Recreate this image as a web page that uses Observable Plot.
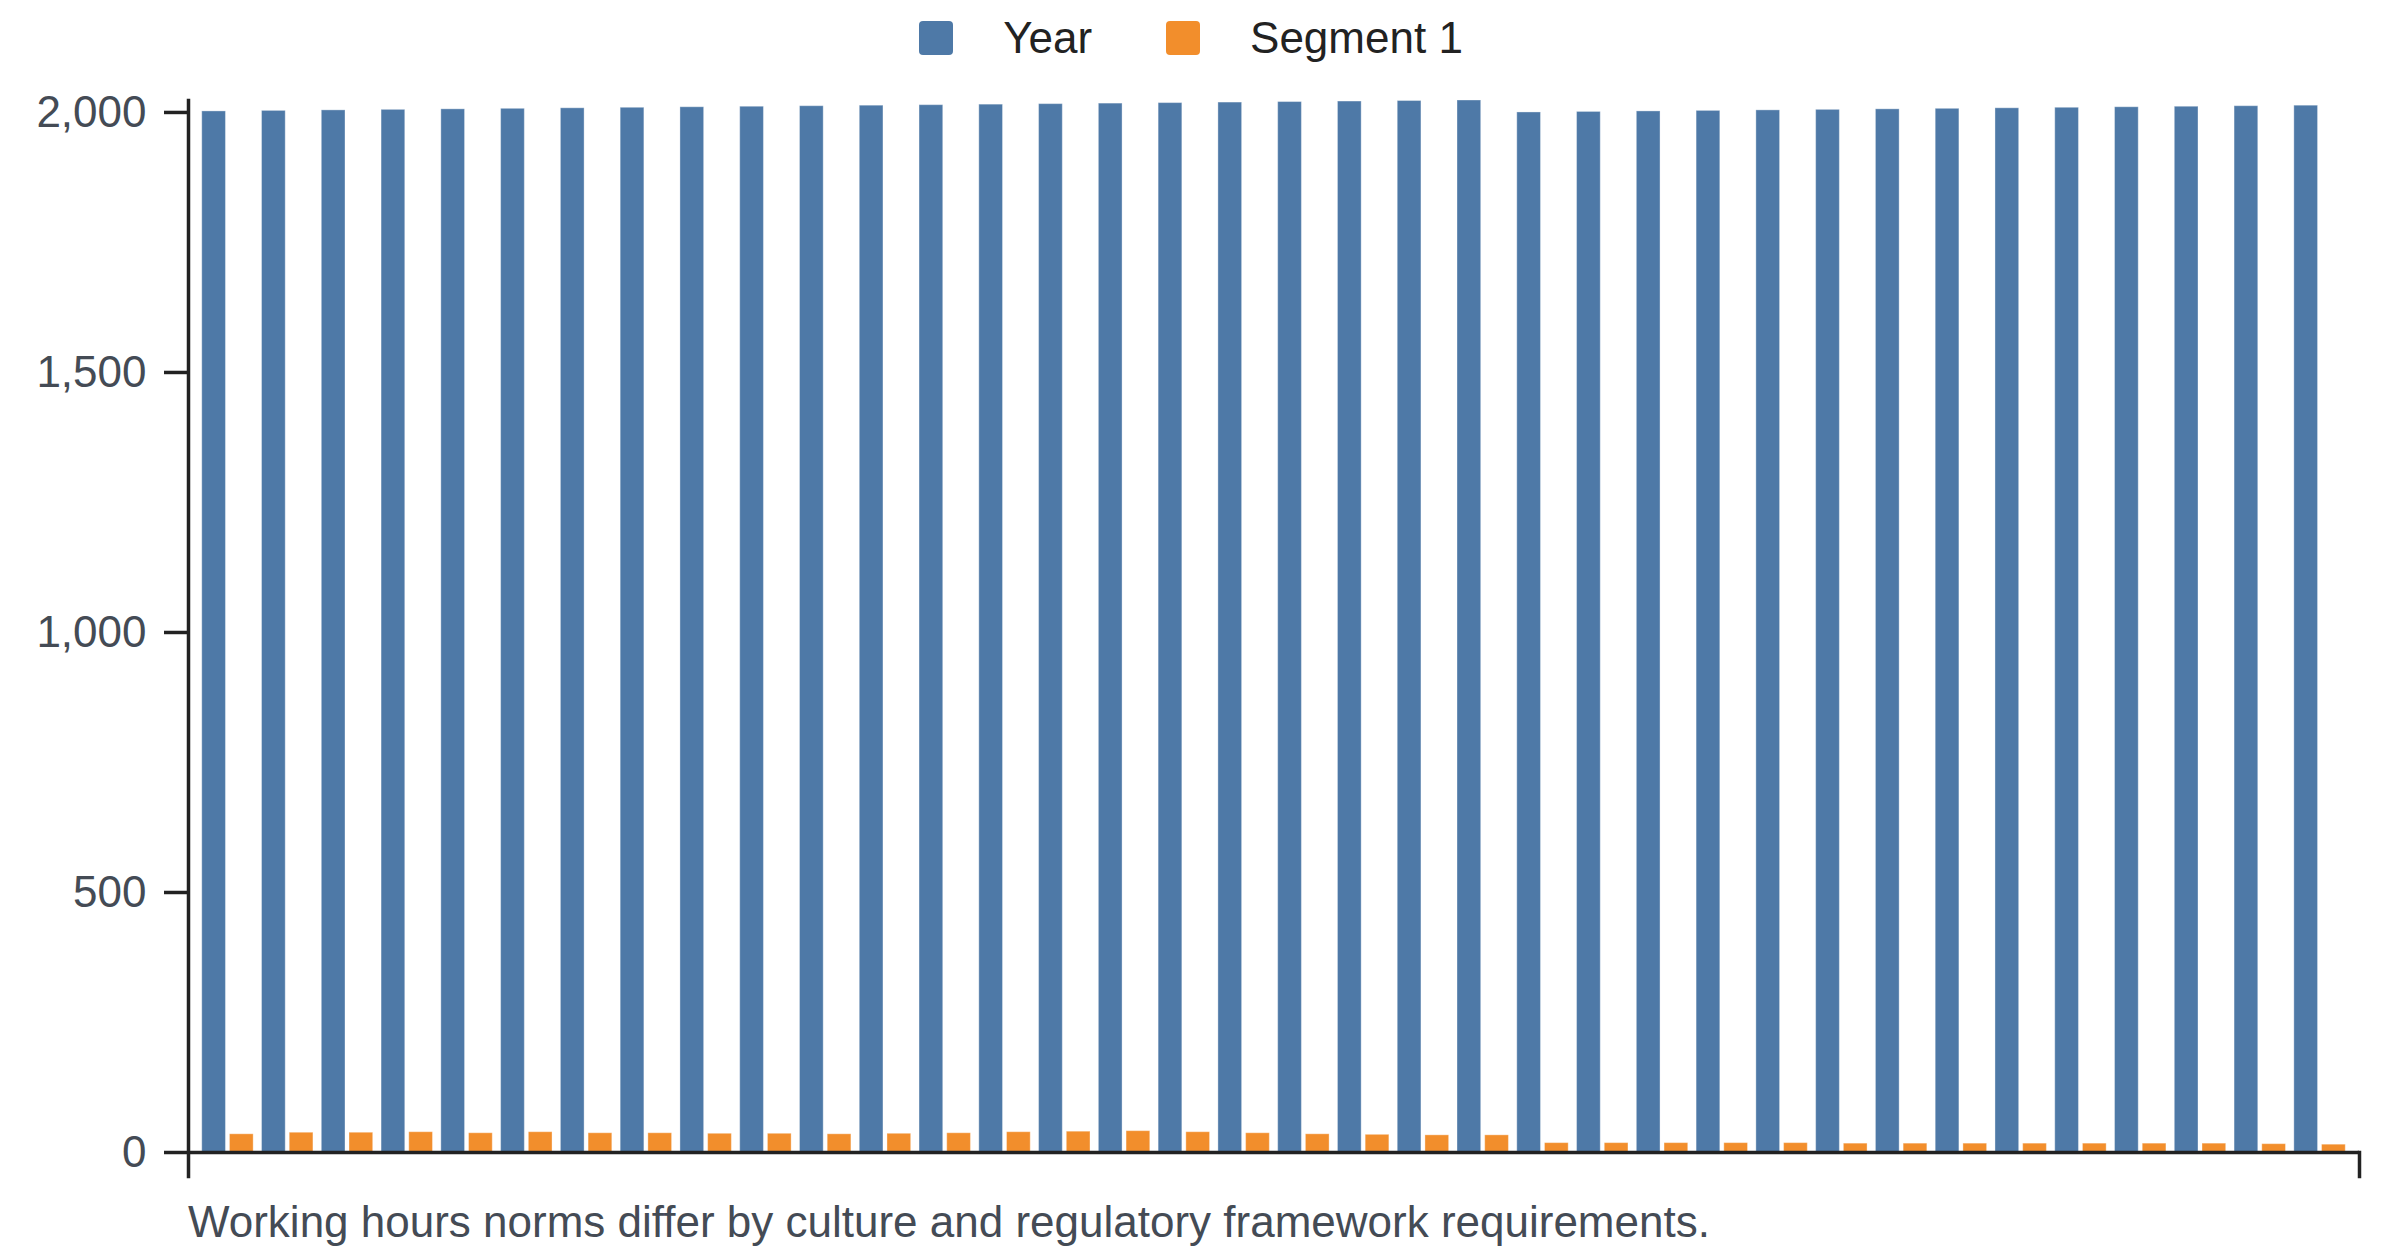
<!DOCTYPE html>
<html>
<head>
<meta charset="utf-8">
<script src="https://cdn.jsdelivr.net/npm/d3@7"></script>
<script src="https://cdn.jsdelivr.net/npm/@observablehq/plot@0.6"></script>
<style>
  html, body { margin: 0; padding: 0; background: #fff; }
  body { width: 2400px; height: 1256px; overflow: hidden; font-family: "Liberation Sans", Arial, sans-serif; }
  #legend { height: 76px; display: flex; align-items: center; justify-content: center; padding-right: 18px; font-size: 44px; color: #222; }
  .item { display: flex; align-items: center; }
  .sw { width: 34px; height: 34px; border-radius: 4px; margin-right: 50px; }
  .gap { width: 74px; }
  #caption { font-size: 44px; color: #444b55; margin-left: 188px; margin-top: 11px; line-height: 50px; white-space: nowrap; }
  svg { display: block; }
</style>
</head>
<body>
<div id="legend"></div>
<div id="chart"></div>
<div id="caption"></div>
<script>
// ---- data ----
const groups = Array.from({length: 36}, (_, i) => String(i + 1));
const seriesNames = ["Year", "Segment 1"];
const yearValues = [
  2002, 2003, 2004, 2005, 2006, 2007, 2008, 2009, 2010, 2011, 2012,
  2013, 2014, 2015, 2016, 2017, 2018, 2019, 2020, 2021, 2022, 2023,
  2000, 2001, 2002, 2003, 2004, 2005, 2006, 2007, 2008, 2009, 2010, 2011, 2012, 2013
];
const segmentValues = [
  35, 38, 38, 39, 37, 39, 37, 37, 36, 36, 35,
  36, 37, 39, 40, 41, 39, 37, 35, 34, 33, 33,
  18, 18, 18, 18, 18, 17, 17, 17, 17, 17, 17, 17, 16, 15
];
const yTicks = [0, 500, 1000, 1500, 2000];
const colors = ["#4e79a7", "#f28e2c"];
const captionText = "Working hours norms differ by culture and regulatory framework requirements.";

// ---- table ----
const rows = [];
groups.forEach((g, i) => {
  rows.push({group: g, series: seriesNames[0], value: yearValues[i]});
  rows.push({group: g, series: seriesNames[1], value: segmentValues[i]});
});

// ---- legend ----
const legend = document.getElementById("legend");
seriesNames.forEach((s, i) => {
  if (i > 0) { const gap = document.createElement("div"); gap.className = "gap"; legend.appendChild(gap); }
  const item = document.createElement("div");
  item.className = "item";
  const sw = document.createElement("div");
  sw.className = "sw";
  sw.style.background = colors[i];
  const t = document.createElement("span");
  t.textContent = s;
  item.appendChild(sw); item.appendChild(t);
  legend.appendChild(item);
});

// ---- chart ----
const W = 2400, H = 1110;
const mL = 188, mR = 41, mT = 24, mB = 34;
const padIn = 0.14, padOut = 0.23;
const step = (W - mL - mR) / (groups.length - padIn + 2 * padOut);
const bw = step * (1 - padIn);
const barW = bw * 0.461;
const off = bw - barW;

const chart = Plot.plot({
  width: W,
  height: H,
  marginLeft: mL,
  marginRight: mR,
  marginTop: mT,
  marginBottom: mB,
  style: {fontFamily: "'Liberation Sans', Arial, sans-serif", background: "#fff"},
  x: {type: "band", domain: groups, paddingInner: padIn, paddingOuter: padOut, round: false, axis: null},
  y: {domain: [0, d3.max(rows, d => d.value)], axis: null, label: null},
  color: {domain: seriesNames, range: colors},
  marks: [
    Plot.barY(rows.filter(d => d.series === seriesNames[0]), {
      x: "group", y: "value", fill: "series", insetRight: off,
      stroke: "#fff", strokeOpacity: 0.35, strokeWidth: 1
    }),
    Plot.barY(rows.filter(d => d.series === seriesNames[1]), {
      x: "group", y: "value", fill: "series", insetLeft: off,
      stroke: "#fff", strokeOpacity: 0.35, strokeWidth: 1
    }),
    Plot.axisY({
      ticks: yTicks, tickFormat: d3.format(","), tickSize: 24, tickPadding: 18, label: null,
      fontSize: 44, color: "#444b55", stroke: "#222", strokeWidth: 3.5, fill: "#444b55"
    }),
    Plot.ruleY([0], {stroke: "#222", strokeWidth: 3.5}),
    Plot.frame({anchor: "left", stroke: "#222", strokeWidth: 3.5, insetBottom: -24}),
    Plot.frame({anchor: "right", stroke: "#222", strokeWidth: 3.5, insetTop: H - mT - mB, insetBottom: -24})
  ]
});
document.getElementById("chart").appendChild(chart);
document.getElementById("caption").textContent = captionText;
</script>
</body>
</html>
